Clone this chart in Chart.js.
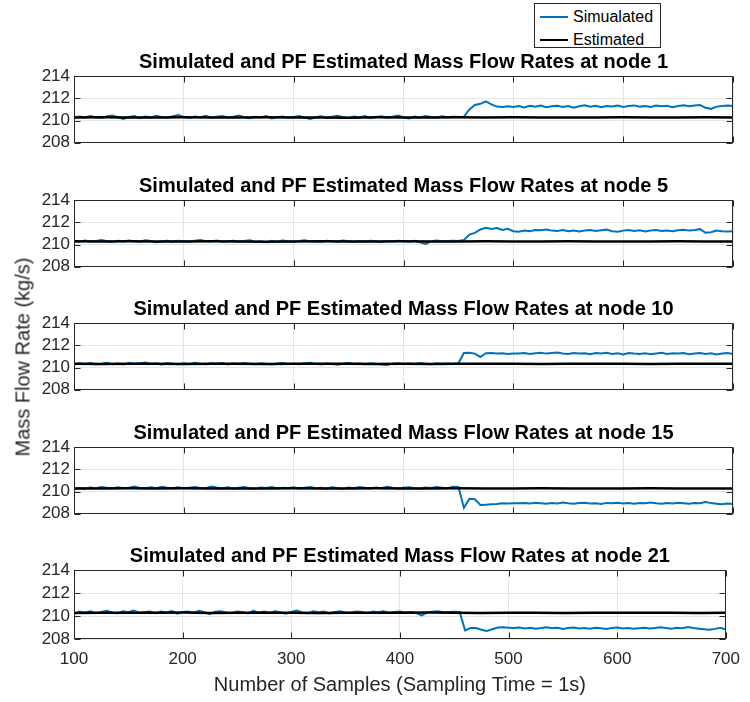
<!DOCTYPE html>
<html lang="en">
<head>
<meta charset="UTF-8">
<title>Simulated and PF Estimated Mass Flow Rates</title>
<script src="https://cdn.jsdelivr.net/npm/chart.js"></script>
<style>
  body { margin: 0; width: 750px; height: 702px; position: relative; background: #fff; overflow: hidden;
         font-family: 'Liberation Sans', Arial, sans-serif; }
  canvas { position: absolute; left: 0; }
  #legend { position: absolute; left: 534px; top: 3px; width: 125px; height: 43px; border: 1px solid #262626;
            background: #fff; font-size: 16px; color: #000; z-index: 2; }
  #legend .item { position: absolute; left: 5px; height: 20px; line-height: 20px; display: flex; align-items: center; }
  #legend .sw { display: inline-block; width: 28px; margin-right: 5px; }
  #ytitle { position: absolute; left: 23px; top: 357px; transform: translate(-50%, -50%) rotate(-90deg);
            white-space: nowrap; font-size: 20px; color: #262626; z-index: 2; }
</style>
</head>
<body>
<div id="legend">
  <div class="item" style="top:3px"><span class="sw" style="height:2px;background:#0072BD"></span>Simualated</div>
  <div class="item" style="top:26px"><span class="sw" style="height:2.5px;background:#000"></span>Estimated</div>
</div>
<div id="ytitle">Mass Flow Rate (kg/s)</div>
<script>
// nodes shown, one panel each
const nodes = [1, 5, 10, 15, 21];

// simulated series: samples 100..700, one value every 5 samples
const simStart = 100, simStep = 5;
const simNode1 = [
  210.25,210.35,210.28,210.40,210.30,210.22,210.38,210.45,210.30,210.15,
  210.32,210.40,210.20,210.35,210.28,210.42,210.30,210.25,210.38,210.50,
  210.32,210.22,210.36,210.30,210.42,210.25,210.33,210.40,210.28,210.35,
  210.45,210.30,210.20,210.34,210.28,210.40,210.18,210.30,210.36,210.25,
  210.32,210.40,210.28,210.15,210.30,210.38,210.26,210.34,210.42,210.30,
  210.22,210.36,210.28,210.40,210.20,210.32,210.38,210.26,210.34,210.45,
  210.30,210.18,210.35,210.28,210.40,210.32,210.25,210.38,210.30,210.35,
  210.32,
  210.35,211.00,211.40,211.50,211.72,211.45,211.25,211.22,211.28,211.22,
  211.30,211.18,211.32,211.25,211.35,211.20,211.28,211.32,211.22,211.30,
  211.15,211.28,211.38,211.25,211.32,211.20,211.30,211.26,211.34,211.22,
  211.30,211.36,211.25,211.30,211.22,211.35,211.28,211.32,211.20,211.30,
  211.38,211.28,211.34,211.40,211.15,211.05,211.25,211.30,211.35,211.30
];
const simNode5 = [
  210.30,210.25,210.35,210.28,210.32,210.40,210.30,210.22,210.34,210.28,
  210.36,210.30,210.25,210.38,210.32,210.20,210.30,210.35,210.28,210.33,
  210.30,210.26,210.34,210.40,210.30,210.28,210.36,210.22,210.30,210.34,
  210.28,210.32,210.38,210.25,210.30,210.20,210.33,210.28,210.36,210.30,
  210.25,210.32,210.38,210.28,210.30,210.22,210.34,210.30,210.26,210.36,
  210.30,210.24,210.32,210.28,210.35,210.30,210.22,210.32,210.28,210.34,
  210.30,210.26,210.34,210.20,210.05,210.28,210.36,210.30,210.32,210.34,
  210.32,
  210.40,210.90,211.05,211.35,211.50,211.40,211.48,211.30,211.42,211.20,
  211.15,211.25,211.20,211.30,211.28,211.35,211.25,211.22,211.30,211.20,
  211.26,211.18,211.25,211.30,211.22,211.28,211.35,211.20,211.15,211.25,
  211.30,211.22,211.28,211.18,211.25,211.30,211.22,211.26,211.20,211.28,
  211.32,211.25,211.30,211.38,211.05,211.10,211.25,211.20,211.18,211.20
];
const simNode10 = [
  210.28,210.38,210.32,210.40,210.30,210.35,210.42,210.30,210.36,210.28,
  210.40,210.33,210.38,210.45,210.32,210.36,210.28,210.40,210.35,210.30,
  210.38,210.32,210.42,210.35,210.30,210.38,210.33,210.40,210.28,210.36,
  210.32,210.40,210.35,210.30,210.38,210.33,210.28,210.36,210.40,210.32,
  210.35,210.30,210.38,210.42,210.33,210.28,210.36,210.32,210.25,210.35,
  210.40,210.32,210.36,210.30,210.38,210.33,210.28,210.22,210.35,210.38,
  210.30,210.36,210.32,210.40,210.35,210.30,210.38,210.33,210.36,210.32,
  210.38,
  211.30,211.32,211.25,210.95,211.28,211.30,211.25,211.28,211.22,211.26,
  211.25,211.30,211.22,211.28,211.32,211.25,211.30,211.35,211.26,211.22,
  211.30,211.25,211.28,211.20,211.30,211.26,211.32,211.22,211.28,211.18,
  211.30,211.25,211.22,211.28,211.20,211.26,211.32,211.22,211.28,211.25,
  211.30,211.20,211.26,211.30,211.22,211.28,211.18,211.25,211.30,211.22
];
const simNode15 = [
  210.25,210.32,210.28,210.36,210.30,210.40,210.33,210.28,210.38,210.30,
  210.35,210.45,210.32,210.28,210.38,210.30,210.42,210.35,210.30,210.38,
  210.28,210.35,210.40,210.32,210.30,210.45,210.36,210.30,210.38,210.28,
  210.34,210.40,210.30,210.25,210.36,210.32,210.40,210.28,210.35,210.30,
  210.38,210.26,210.34,210.40,210.30,210.35,210.28,210.38,210.32,210.25,
  210.36,210.30,210.40,210.33,210.28,210.36,210.30,210.42,210.34,210.28,
  210.35,210.38,210.30,210.28,210.36,210.32,210.40,210.35,210.30,210.42,
  210.40,
  208.55,209.35,209.30,208.80,208.82,208.85,208.88,208.95,208.92,208.95,
  208.95,208.98,208.92,209.00,208.95,208.90,208.98,208.93,209.02,208.95,
  208.90,208.98,209.00,208.92,208.95,208.88,208.98,208.94,209.00,208.92,
  208.96,208.90,208.98,208.94,209.02,208.95,208.90,208.97,208.92,209.00,
  208.95,208.90,208.98,208.94,209.05,208.96,208.90,208.85,208.92,208.88
];
const simNode21 = [
  210.20,210.38,210.30,210.42,210.25,210.35,210.45,210.30,210.22,210.40,
  210.32,210.48,210.28,210.35,210.40,210.25,210.38,210.30,210.42,210.20,
  210.35,210.40,210.28,210.45,210.32,210.18,210.38,210.42,210.30,210.25,
  210.40,210.35,210.22,210.45,210.30,210.38,210.28,210.42,210.32,210.20,
  210.35,210.48,210.30,210.25,210.40,210.32,210.38,210.22,210.35,210.42,
  210.30,210.28,210.40,210.35,210.25,210.38,210.32,210.42,210.28,210.35,
  210.40,210.30,210.35,210.25,210.05,210.30,210.38,210.42,210.32,210.35,
  210.38,
  210.35,208.75,208.95,208.95,208.80,208.70,208.85,209.00,209.02,208.98,
  208.95,209.00,208.92,208.98,208.90,208.95,209.02,208.94,208.98,208.88,
  208.95,209.00,208.92,208.96,208.90,208.98,208.93,208.88,208.95,209.00,
  208.92,208.96,208.90,208.94,208.98,208.92,208.96,209.02,208.95,208.90,
  208.98,208.94,209.05,208.95,208.90,208.85,208.80,208.88,208.98,208.82
];

// PF estimates: samples 100..700, one value every 25 samples
const estStep = 25;
const estNode1 = [210.28,210.29,210.27,210.28,210.30,210.28,210.27,210.29,210.28,210.28,210.26,210.29,210.28,210.27,210.29,210.28,210.30,210.28,210.27,210.28,210.29,210.28,210.27,210.29,210.28];
const estNode5 = [210.29,210.28,210.30,210.27,210.28,210.29,210.28,210.26,210.28,210.29,210.28,210.27,210.29,210.28,210.28,210.30,210.27,210.28,210.29,210.28,210.27,210.28,210.29,210.28,210.28];
const estNode10 = [210.33,210.32,210.34,210.33,210.31,210.33,210.34,210.32,210.33,210.33,210.34,210.32,210.33,210.31,210.33,210.34,210.33,210.32,210.33,210.34,210.33,210.32,210.33,210.34,210.33];
const estNode15 = [210.28,210.27,210.29,210.28,210.30,210.28,210.27,210.28,210.29,210.28,210.27,210.29,210.28,210.28,210.30,210.27,210.28,210.29,210.28,210.27,210.28,210.29,210.28,210.27,210.28];
const estNode21 = [210.27,210.29,210.28,210.28,210.30,210.27,210.28,210.29,210.28,210.27,210.29,210.28,210.28,210.30,210.28,210.27,210.29,210.28,210.27,210.28,210.29,210.28,210.28,210.27,210.28];

const simulated = [simNode1, simNode5, simNode10, simNode15, simNode21];
const estimated = [estNode1, estNode5, estNode10, estNode15, estNode21];

const xTicks = [100, 200, 300, 400, 500, 600, 700];
const yTicks = [208, 210, 212, 214];

// layout of the stacked axes (px)
const panelTops = [76, 200, 323, 447, 570];
const plotHeight = 69;
const titleBlock = 28;
const bottomRoom = 12;
const axisColor = '#262626';
const gridColor = '#e6e6e6';

Chart.defaults.font.family = "'Liberation Sans', Arial, sans-serif";
Chart.defaults.color = axisColor;

function toPoints(values, step) {
  return values.map((v, i) => ({ x: simStart + i * step, y: v }));
}

// MATLAB style box with inward ticks
const framePlugin = {
  id: 'frame',
  afterDraw(chart) {
    const { ctx, chartArea: a, scales } = chart;
    const l = Math.round(a.left) + 0.5, r = Math.round(a.right) - 0.5;
    const t = Math.round(a.top) + 0.5, b = Math.round(a.bottom) - 0.5;
    const tl = 6;
    ctx.save();
    ctx.strokeStyle = axisColor;
    ctx.lineWidth = 1;
    ctx.strokeRect(l, t, r - l, b - t);
    ctx.beginPath();
    xTicks.forEach(v => {
      const px = Math.round(scales.x.getPixelForValue(v)) + 0.5;
      ctx.moveTo(px, b); ctx.lineTo(px, b - tl);
      ctx.moveTo(px, t); ctx.lineTo(px, t + tl);
    });
    yTicks.forEach(v => {
      const py = Math.round(scales.y.getPixelForValue(v)) + 0.5;
      ctx.moveTo(l, py); ctx.lineTo(l + tl, py);
      ctx.moveTo(r, py); ctx.lineTo(r - tl, py);
    });
    ctx.stroke();
    ctx.restore();
  }
};

function makePanel(i) {
  const isLast = i === nodes.length - 1;
  const top = panelTops[i] - titleBlock;
  const height = isLast ? 702 - top : titleBlock + plotHeight + bottomRoom;
  const canvas = document.createElement('canvas');
  canvas.width = 750;
  canvas.height = height;
  canvas.style.top = top + 'px';
  document.body.appendChild(canvas);

  new Chart(canvas, {
    type: 'line',
    data: {
      datasets: [
        { label: 'Estimated', data: toPoints(estimated[i], estStep), borderColor: '#000000', borderWidth: 2.5, order: 0 },
        { label: 'Simualated', data: toPoints(simulated[i], simStep), borderColor: '#0072BD', borderWidth: 2, order: 1 }
      ]
    },
    options: {
      responsive: false,
      animation: false,
      layout: { padding: { left: 0, right: 17, top: 0, bottom: isLast ? 0 : bottomRoom } },
      elements: { point: { radius: 0 }, line: { tension: 0 } },
      plugins: {
        legend: { display: false },
        tooltip: { enabled: false },
        title: {
          display: true,
          text: 'Simulated and PF Estimated Mass Flow Rates at node ' + nodes[i],
          fullSize: false,
          color: '#000000',
          font: { size: 20, weight: 'bold', lineHeight: 1 },
          padding: { top: 4, bottom: 4 }
        }
      },
      scales: {
        x: {
          type: 'linear', min: 100, max: 700,
          ticks: { display: isLast, stepSize: 100, autoSkip: false, font: { size: 17 }, color: axisColor, padding: 10, maxRotation: 0 },
          grid: { color: gridColor, drawTicks: false },
          border: { display: false },
          title: { display: isLast, text: 'Number of Samples (Sampling Time = 1s)', font: { size: 20 }, color: axisColor, padding: { top: 0, bottom: 5 } },
          afterFit: s => { s.height = isLast ? 63 : 0; }
        },
        y: {
          min: 208, max: 214,
          ticks: { stepSize: 2, autoSkip: false, font: { size: 17 }, color: axisColor, padding: 4 },
          grid: { color: gridColor, drawTicks: false },
          border: { display: false },
          afterFit: s => { s.width = 74; }
        }
      }
    },
    plugins: [framePlugin]
  });
}

nodes.forEach((n, i) => makePanel(i));
</script>
</body>
</html>
